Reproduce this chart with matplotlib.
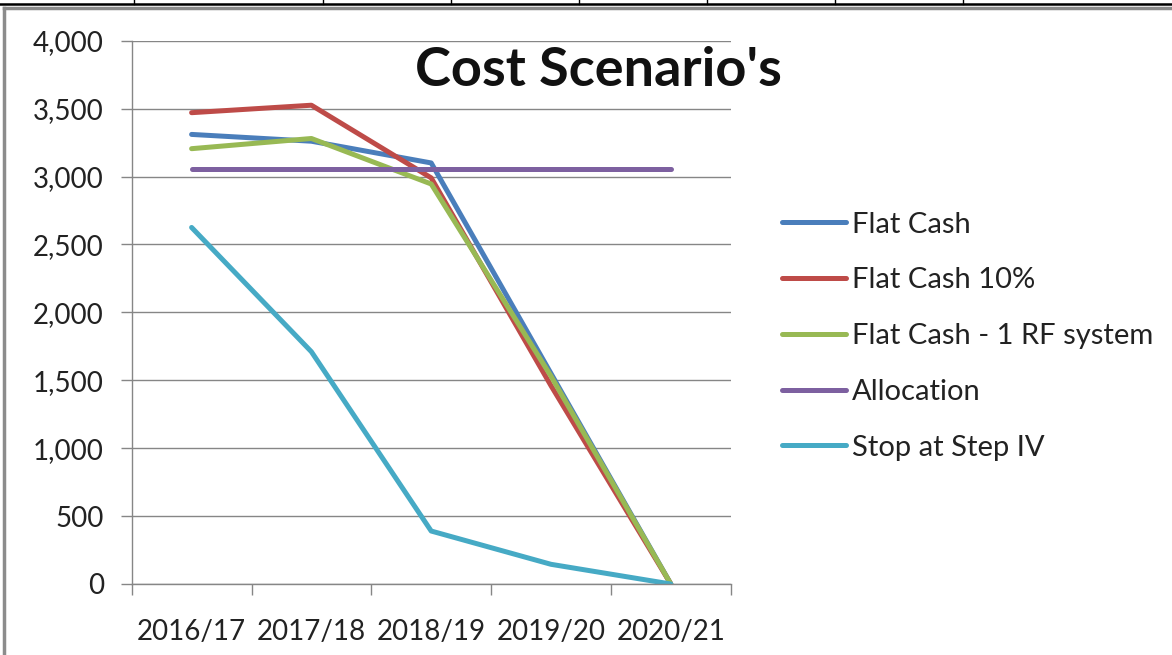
import matplotlib
matplotlib.use("Agg")
import matplotlib.pyplot as plt
from matplotlib.lines import Line2D

categories = ["2016/17", "2017/18", "2018/19", "2019/20", "2020/21"]
flat_cash = [3310, 3260, 3100, 1550, 0]
flat_cash_10 = [3470, 3525, 2990, 1460, 0]
flat_cash_1rf = [3205, 3280, 2945, 1530, 0]
allocation = [3055, 3055, 3055, 3055, 3055]
stop_step_iv = [2625, 1710, 390, 145, 0]

series = [
    ("Flat Cash", flat_cash, "#4A7EBB"),
    ("Flat Cash 10%", flat_cash_10, "#BE4B48"),
    ("Flat Cash - 1 RF system", flat_cash_1rf, "#98B954"),
    ("Allocation", allocation, "#7D60A0"),
    ("Stop at Step IV", stop_step_iv, "#46AAC5"),
]

plt.rcParams['font.family'] = ['Lato', 'DejaVu Sans']
W, H = 1172, 655
fig = plt.figure(figsize=(W / 100, H / 100), dpi=100)
ax = fig.add_axes([131.7 / W, 1 - 584 / H, (730.7 - 131.7) / W, (584 - 40.7) / H])

LW = 3.6
x = list(range(len(categories)))
for name, vals, col in series:
    ax.plot(x, vals, color=col, lw=LW, label=name, solid_capstyle='round', solid_joinstyle='round')

ax.set_xlim(-0.5, len(categories) - 0.5)
ax.set_ylim(0, 4000)
ax.set_yticks(range(0, 4001, 500))
ax.set_yticklabels([f"{v:,}" for v in range(0, 4001, 500)], fontsize=20, color="#222222")
ax.set_xticks(x)
ax.set_xticklabels(categories, fontsize=20, color="#222222")
ax.set_xticks([i - 0.5 for i in range(len(categories) + 1)], minor=True)
ax.tick_params(axis='x', which='major', length=0, pad=25)
ax.tick_params(axis='x', which='minor', length=8, color="#868686", width=1)
ax.tick_params(axis='y', length=8, color="#868686", width=1, pad=12)
ax.grid(axis='y', color="#868686", lw=1)
ax.set_axisbelow(True)
for s in ["top", "right"]:
    ax.spines[s].set_visible(False)
for s in ["left", "bottom"]:
    ax.spines[s].set_color("#868686")
    ax.spines[s].set_linewidth(1)

fig.text(598 / W, 1 - 71 / H, "Cost Scenario's", fontsize=39, fontweight='bold', ha='center', va='center', color="#111111")

handles = [Line2D([0], [0], color=c, lw=LW, solid_capstyle='round') for _, _, c in series]
leg = fig.legend(handles, [n for n, _, _ in series], loc='upper left',
                 bbox_to_anchor=(767 / W, 1 - 197 / H), frameon=False, fontsize=21,
                 handlelength=2.2, handletextpad=0.2, labelspacing=1.02, borderpad=0)
for t in leg.get_texts():
    t.set_color("#222222")

# spreadsheet frame
fig.add_artist(Line2D([0, 1], [1 - 4 / H, 1 - 4 / H], transform=fig.transFigure, color="black", lw=1.8))
for px in [134, 323, 451, 579, 707, 835, 963]:
    fig.add_artist(Line2D([px / W, px / W], [1, 1 - 4 / H], transform=fig.transFigure, color="black", lw=1))
fig.add_artist(Line2D([4 / W, 1], [1 - 8 / H, 1 - 8 / H], transform=fig.transFigure, color="#8c8c8c", lw=2.5))
fig.add_artist(Line2D([4 / W, 4 / W], [0, 1 - 8 / H], transform=fig.transFigure, color="#8c8c8c", lw=2.5))

fig.savefig("out.png", dpi=100)
